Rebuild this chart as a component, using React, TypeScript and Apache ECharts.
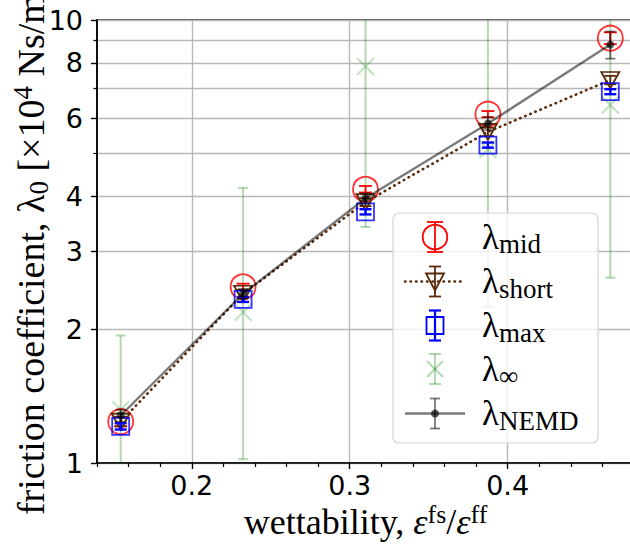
import React, { useEffect, useRef } from 'react';
import * as echarts from 'echarts';

// ---- data ----
const wettability = [0.155, 0.2325, 0.31, 0.3875, 0.465];
const lambdaMid = [1.24, 2.5, 4.15, 6.13, 9.1];
const lambdaMidErr = [0.03, 0.04, 0.07, 0.1, 0.28];
const lambdaShort = [1.24, 2.41, 3.88, 5.59, 7.32];
const lambdaShortErr = [0.03, 0.05, 0.08, 0.12, 0.16];
const lambdaMax = [1.21, 2.34, 3.69, 5.22, 6.89];
const lambdaMaxErr = [0.02, 0.03, 0.05, 0.07, 0.09];
const lambdaInf = [1.32, 2.19, 7.85, 5.1, 6.43];
const lambdaInfLow = [0.85, 1.02, 3.41, 2.25, 2.62];
const lambdaInfHigh = [1.94, 4.18, 12.3, 12, 12];
const lambdaNemd = [1.28, 2.41, 3.96, 5.84, 8.8];
const lambdaNemdErr = [0.04, 0.06, 0.1, 0.2, 0.62];

const xMajorTicks = [0.2, 0.3, 0.4];
const xMinorTicks = [0.14, 0.16, 0.18, 0.22, 0.24, 0.26, 0.28, 0.32, 0.34, 0.36, 0.38, 0.42, 0.44, 0.46, 0.48];
const yMajorTicks = [1, 2, 3, 4, 6, 8, 10];
const yMinorTicks = [5, 7, 9];
const legendSubs = ['mid', 'short', 'max', '∞', 'NEMD'];

const RED = '#ff0000';
const BROWN = '#5a2a0a';
const BLUE = '#0000ff';
const GREEN = 'rgba(0,128,0,0.3)';
const GRAY = 'rgba(0,0,0,0.52)';
const DOT = 'rgba(0,0,0,0.65)';
const SERIF = 'Liberation Serif';
const SANS = 'DejaVu Sans';

const X_PATH = 'path://M0,0 L10,10 M10,0 L0,10';

function errorSeries(name: string, lo: number[], hi: number[], color: string, width: number, capW: number, z: number) {
  return {
    type: 'custom',
    name,
    z,
    clip: true,
    silent: true,
    data: wettability.map((x, i) => [x, lo[i], hi[i]]),
    encode: { x: 0, y: [1, 2] },
    renderItem: (_params: any, api: any) => {
      const x = api.value(0);
      const top = api.coord([x, api.value(2)]);
      const bot = api.coord([x, api.value(1)]);
      const h = capW / 2;
      const st = { stroke: color, lineWidth: width };
      return {
        type: 'group',
        children: [
          { type: 'line', shape: { x1: top[0], y1: top[1], x2: bot[0], y2: bot[1] }, style: st },
          { type: 'line', shape: { x1: top[0] - h, y1: top[1], x2: top[0] + h, y2: top[1] }, style: st },
          { type: 'line', shape: { x1: bot[0] - h, y1: bot[1], x2: bot[0] + h, y2: bot[1] }, style: st },
        ],
      };
    },
  };
}

function sym(values: number[]) {
  return wettability.map((x, i) => [x, values[i]]);
}

function legendGraphic() {
  const ix = 435;
  const tx = 482;
  const rows = [237, 281.5, 325.5, 369, 413.5];
  const els: any[] = [
    {
      type: 'rect',
      shape: { x: 393, y: 213, width: 205, height: 230, r: 6 },
      style: { fill: 'rgba(255,255,255,0.8)', stroke: '#d4d4d4', lineWidth: 1.2 },
      z: 100,
    },
  ];
  const eb = (yc: number, color: string, w: number, cap: number) => {
    const st = { stroke: color, lineWidth: w };
    els.push({ type: 'line', shape: { x1: ix, y1: yc - 15, x2: ix, y2: yc + 15 }, style: st, z: 101 });
    els.push({ type: 'line', shape: { x1: ix - cap / 2, y1: yc - 15, x2: ix + cap / 2, y2: yc - 15 }, style: st, z: 101 });
    els.push({ type: 'line', shape: { x1: ix - cap / 2, y1: yc + 15, x2: ix + cap / 2, y2: yc + 15 }, style: st, z: 101 });
  };
  // mid
  eb(rows[0], RED, 1.8, 16);
  els.push({ type: 'circle', shape: { cx: ix, cy: rows[0], r: 12.3 }, style: { fill: 'none', stroke: RED, lineWidth: 1.8 }, z: 101 });
  // short
  els.push({ type: 'line', shape: { x1: 405, y1: rows[1], x2: 465, y2: rows[1] }, style: { stroke: BROWN, lineWidth: 2.6, lineDash: [0.5, 5], lineCap: 'round' }, z: 101 });
  eb(rows[1], BROWN, 1.8, 12);
  els.push({ type: 'polygon', shape: { points: [[426, rows[1] - 8], [444, rows[1] - 8], [435, rows[1] + 9]] }, style: { fill: 'none', stroke: BROWN, lineWidth: 1.8 }, z: 101 });
  // max
  eb(rows[2], BLUE, 2.2, 12);
  els.push({ type: 'rect', shape: { x: ix - 8.5, y: rows[2] - 8.5, width: 17, height: 17 }, style: { fill: 'none', stroke: BLUE, lineWidth: 1.8 }, z: 101 });
  // inf
  eb(rows[3], GREEN, 2, 12);
  els.push({ type: 'line', shape: { x1: ix - 8, y1: rows[3] - 8, x2: ix + 8, y2: rows[3] + 8 }, style: { stroke: GREEN, lineWidth: 2 }, z: 101 });
  els.push({ type: 'line', shape: { x1: ix - 8, y1: rows[3] + 8, x2: ix + 8, y2: rows[3] - 8 }, style: { stroke: GREEN, lineWidth: 2 }, z: 101 });
  // NEMD
  els.push({ type: 'line', shape: { x1: 405, y1: rows[4], x2: 465, y2: rows[4] }, style: { stroke: GRAY, lineWidth: 2.4 }, z: 101 });
  eb(rows[4], GRAY, 1.8, 10);
  els.push({ type: 'circle', shape: { cx: ix, cy: rows[4], r: 4 }, style: { fill: DOT }, z: 101 });

  rows.forEach((yc, i) => {
    els.push({
      type: 'text',
      x: tx,
      y: yc,
      z: 102,
      style: {
        text: '{l|λ}{s|' + legendSubs[i] + '}',
        align: 'left',
        textAlign: 'left',
        verticalAlign: 'middle',
        textVerticalAlign: 'middle',
        rich: {
          l: { fontFamily: SERIF, fontSize: 35, fill: '#000', align: 'left' },
          s: { fontFamily: SERIF, fontSize: 27, fill: '#000', align: 'left', padding: [14, 0, 0, 0] },
        },
      },
    });
  });
  return els;
}

export default function App() {
  const ref = useRef<HTMLDivElement>(null);
  useEffect(() => {
    if (!ref.current) return;
    const chart = echarts.init(ref.current, undefined, { renderer: 'svg' });
    const option: any = {
      animation: false,
      backgroundColor: '#fff',
      grid: {
        left: 97,
        top: 20,
        right: -4,
        bottom: 83,
        show: true,
        borderColor: '#222',
        borderWidth: 1.6,
        backgroundColor: 'transparent',
        containLabel: false,
        outerBoundsMode: 'none',
      },
      xAxis: [
        {
          type: 'value',
          min: 0.14,
          max: 0.48,
          name: 'wettability, {it|ε}{sup|fs}/{it|ε}{sup|ff}',
          nameLocation: 'middle',
          nameGap: 38,
          nameMoveOverlap: false,
          nameTextStyle: {
            fontFamily: SERIF,
            fontSize: 36,
            color: '#000',
            rich: {
              it: { fontFamily: SERIF, fontSize: 36, fontStyle: 'italic', color: '#000' },
              sup: { fontFamily: SERIF, fontSize: 26, color: '#000', padding: [0, 0, 16, 0] },
            },
          },
          axisLine: { show: true, lineStyle: { color: '#000', width: 1.6 } },
          axisTick: { show: true, customValues: xMinorTicks, length: 4, lineStyle: { color: '#000', width: 1.2 } },
          axisLabel: { show: true, customValues: xMajorTicks, margin: 9, fontFamily: SANS, fontSize: 27, color: '#000', formatter: (v: number) => v.toFixed(1) },
          splitLine: { show: false },
        },
        {
          type: 'value',
          min: 0.14,
          max: 0.48,
          position: 'bottom',
          axisLine: { show: false },
          axisTick: { show: true, customValues: xMajorTicks, length: 6, lineStyle: { color: '#000', width: 1.4 } },
          axisLabel: { show: false },
          splitLine: { show: true, lineStyle: { color: '#b8b8b8', width: 1.4 } },
        },
      ],
      yAxis: [
        {
          type: 'log',
          logBase: 10,
          min: 1,
          max: 10,
          name: 'friction coefficient, λ{sub|0} [×10{sup|4} Ns/m{sup|3}]',
          nameLocation: 'middle',
          nameGap: 45,
          nameMoveOverlap: false,
          nameTextStyle: {
            fontFamily: SERIF,
            fontSize: 38,
            color: '#000',
            rich: {
              sub: { fontFamily: SERIF, fontSize: 27, color: '#000', padding: [16, 0, 0, 0] },
              sup: { fontFamily: SERIF, fontSize: 27, color: '#000', padding: [0, 0, 16, 0] },
            },
          },
          axisLine: { show: true, lineStyle: { color: '#000', width: 1.6 } },
          axisTick: { show: true, customValues: yMajorTicks, length: 6, lineStyle: { color: '#000', width: 1.4 } },
          axisLabel: { show: true, customValues: yMajorTicks, margin: 14, fontFamily: SANS, fontSize: 27, color: '#000', formatter: (v: number) => String(Math.round(v)) },
          splitLine: { show: true, lineStyle: { color: '#b8b8b8', width: 1.4 } },
        },
        {
          type: 'log',
          logBase: 10,
          min: 1,
          max: 10,
          position: 'left',
          axisLine: { show: false },
          axisTick: { show: true, customValues: yMinorTicks, length: 3.5, lineStyle: { color: '#000', width: 1.2 } },
          axisLabel: { show: false },
          splitLine: { show: true, lineStyle: { color: '#b8b8b8', width: 1.4 } },
        },
      ],
      series: [
        errorSeries('λ∞ err', lambdaInfLow, lambdaInfHigh, GREEN, 2, 10, 1),
        {
          type: 'scatter', name: 'λ∞', z: 2, silent: true,
          data: sym(lambdaInf),
          symbol: X_PATH, symbolSize: 17,
          itemStyle: { color: 'transparent', borderColor: GREEN, borderWidth: 2 },
        },
        errorSeries('λmid err', lambdaMid.map((v, i) => v - lambdaMidErr[i]), lambdaMid.map((v, i) => v + lambdaMidErr[i]), RED, 1.8, 13, 3),
        {
          type: 'scatter', name: 'λmid', z: 3, silent: true,
          data: sym(lambdaMid),
          symbol: 'circle', symbolSize: 25,
          itemStyle: { color: 'transparent', borderColor: RED, borderWidth: 1.8 },
        },
        errorSeries('λshort err', lambdaShort.map((v, i) => v - lambdaShortErr[i]), lambdaShort.map((v, i) => v + lambdaShortErr[i]), BROWN, 1.8, 12, 4),
        {
          type: 'line', name: 'λshort', z: 4, silent: true,
          data: sym(lambdaShort),
          symbol: 'triangle', symbolRotate: 180, symbolSize: [18, 16], showSymbol: true,
          lineStyle: { color: BROWN, width: 2.6, type: [0.5, 5], cap: 'round' },
          itemStyle: { color: 'transparent', borderColor: BROWN, borderWidth: 1.8 },
        },
        errorSeries('λmax err', lambdaMax.map((v, i) => v - lambdaMaxErr[i]), lambdaMax.map((v, i) => v + lambdaMaxErr[i]), BLUE, 2.4, 12, 5),
        {
          type: 'scatter', name: 'λmax', z: 5, silent: true,
          data: sym(lambdaMax),
          symbol: 'rect', symbolSize: 17,
          itemStyle: { color: 'transparent', borderColor: BLUE, borderWidth: 1.8 },
        },
        errorSeries('λNEMD err', lambdaNemd.map((v, i) => v - lambdaNemdErr[i]), lambdaNemd.map((v, i) => v + lambdaNemdErr[i]), GRAY, 1.8, 10, 6),
        {
          type: 'line', name: 'λNEMD', z: 6, silent: true,
          data: sym(lambdaNemd),
          symbol: 'circle', symbolSize: 8, showSymbol: true,
          lineStyle: { color: GRAY, width: 2.4 },
          itemStyle: { color: DOT, borderWidth: 0 },
        },
      ],
      graphic: legendGraphic(),
    };
    chart.setOption(option);
    return () => chart.dispose();
  }, []);
  return <div ref={ref} style={{ position: 'fixed', left: 0, top: 0, width: 630, height: 546, background: '#fff' }} />;
}
